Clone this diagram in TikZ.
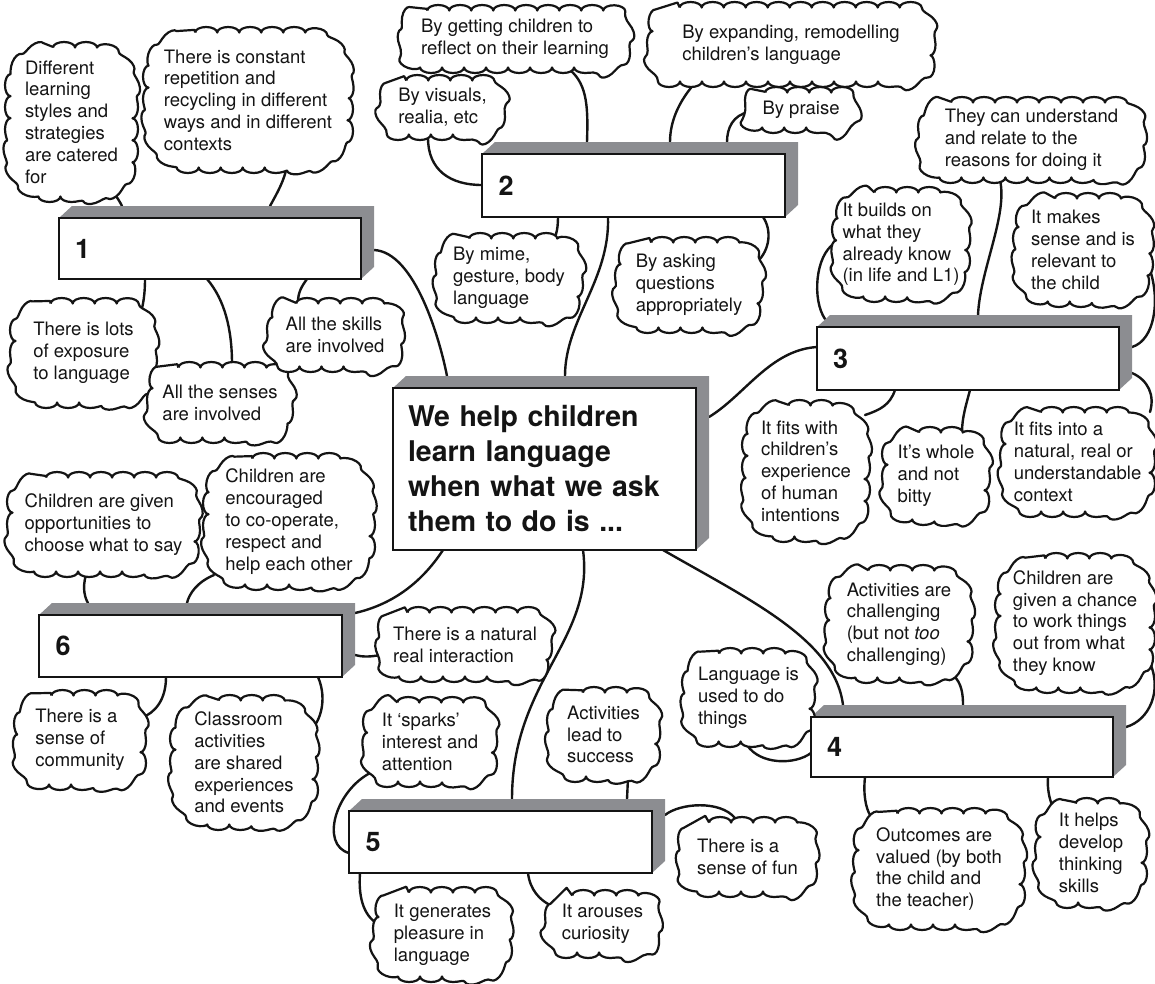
\documentclass[tikz,border=0pt]{standalone}
\usepackage{fontspec}
\setmainfont{TeX Gyre Heros}
\usetikzlibrary{calc,decorations.pathmorphing}
\definecolor{boxgray}{RGB}{140,141,145}
\definecolor{ink}{RGB}{20,20,20}
\pgfdeclarelayer{wires}
\pgfdeclarelayer{bubbles}
\pgfsetlayers{wires,bubbles,main}
\newcommand\boxdepth[1]{\begin{pgfonlayer}{bubbles}\fill[boxgray] (#1.north west) -- ($(#1.north west)+(13,-12)$) -- ($(#1.north east)+(13,-12)$) -- ($(#1.south east)+(13,-12)$) -- (#1.south east) -- (#1.north east) -- cycle;\end{pgfonlayer}}
\newcommand\puff[4]{%
 \pgfmathsetmacro\pxa{#1-#3/2+5.5}\pgfmathsetmacro\pxb{#1+#3/2-5.5}%
 \pgfmathsetmacro\pya{#2-#4/2+5.5}\pgfmathsetmacro\pyb{#2+#4/2-5.5}%
 \pgfmathsetmacro\pr{0.32*min(#3,#4)}\pgfmathsetmacro\pk{0.448*\pr}%
 \begin{pgfonlayer}{bubbles}
 \path[bubble] (\pxa+\pr,\pya) -- (\pxb-\pr,\pya) .. controls (\pxb-\pk,\pya) and (\pxb,\pya+\pk) .. (\pxb,\pya+\pr) -- (\pxb,\pyb-\pr) .. controls (\pxb,\pyb-\pk) and (\pxb-\pk,\pyb) .. (\pxb-\pr,\pyb) -- (\pxa+\pr,\pyb) .. controls (\pxa+\pk,\pyb) and (\pxa,\pyb-\pk) .. (\pxa,\pyb-\pr) -- (\pxa,\pya+\pr) .. controls (\pxa,\pya+\pk) and (\pxa+\pk,\pya) .. (\pxa+\pr,\pya);
 \end{pgfonlayer}}
\begin{document}
\begin{tikzpicture}[x=1pt,y=-1pt,
  conn/.style={line width=2.4pt, line cap=round, draw=ink},
  bubble/.style={draw=ink, line width=2.2pt, fill=white, line join=round, decorate, decoration={bumps, segment length=44pt, amplitude=5.5pt}},
  words/.style={align=left, inner sep=0pt, text=ink, font=\fontsize{18.5}{21.8}\selectfont},
  frontbox/.style={rectangle, draw=ink, line width=2.8pt, fill=white, outer sep=0pt, inner xsep=16pt, text width=270pt, align=left, text=ink, font=\bfseries\fontsize{27}{30}\selectfont},
  mainbox/.style={rectangle, draw=ink, line width=2.8pt, fill=white, outer sep=0pt, inner xsep=15pt, text width=273pt, align=left, text=ink, font=\bfseries\fontsize{28.5}{35}\selectfont}]
\useasboundingbox (0,0) rectangle (1155,983);

% boxes
\node[frontbox, minimum width=302pt, minimum height=61pt] (b1) at (210,248.5) {1};
\node[frontbox, minimum width=303pt, minimum height=63pt] (b2) at (633.5,185.5) {2};
\node[frontbox, minimum width=302pt, minimum height=63pt] (b3) at (968,358.5) {3};
\node[mainbox, minimum width=303pt, minimum height=162pt] (bc) at (544.5,469) {We help children\\learn language\\when what we ask\\them to do is ...};
\node[frontbox, minimum width=303pt, minimum height=62pt] (b6) at (190.5,646) {6};
\node[frontbox, minimum width=303pt, minimum height=62pt] (b5) at (500.5,842) {5};
\node[frontbox, minimum width=302pt, minimum height=60pt] (b4) at (962,747) {4};
\boxdepth{b1}
\boxdepth{b2}
\boxdepth{b3}
\boxdepth{bc}
\boxdepth{b6}
\boxdepth{b5}
\boxdepth{b4}

% clouds (text nodes + bumpy outlines)
\node[words] (c1a) at (71.5,122) {Different\\learning\\styles and\\strategies\\are catered\\for};
\puff{71.5}{122}{133}{160}
\node[words] (c1b) at (248,100) {There is constant\\repetition and\\recycling in different\\ways and in different\\contexts};
\puff{248}{100}{210}{146}
\node[words] (c1c) at (83.5,353) {There is lots\\of exposure\\to language};
\puff{83.5}{353}{147}{110}
\node[words] (c1d) at (220,402.5) {All the senses\\are involved};
\puff{220}{402.5}{146}{81}
\node[words] (c1e) at (335,335) {All the skills\\are involved};
\puff{335}{335}{136}{74}

\node[words] (c2a) at (515,39) {By getting children to\\reflect on their learning};
\puff{515}{39}{230}{68}
\node[words] (c2b) at (442.5,107.5) {By visuals,\\realia, etc};
\puff{442.5}{107.5}{125}{65}
\node[words] (c2c) at (791,44.5) {By expanding, remodelling\\children’s language};
\puff{791}{44.5}{288}{85}
\node[words] (c2d) at (801,110) {By praise};
\puff{801}{110}{112}{46}
\node[words] (c2e) at (509,278) {By mime,\\gesture, body\\language};
\puff{509}{278}{148}{90}
\node[words] (c2f) at (689,285) {By asking\\questions\\appropriately};
\puff{689}{285}{148}{96}

\node[words] (c3a) at (1031.5,140) {They can understand\\and relate to the\\reasons for doing it};
\puff{1031.5}{140}{227}{86}
\node[words] (c3b) at (901,244.5) {It builds on\\what they\\already know\\(in life and L1)};
\puff{901}{244.5}{138}{115}
\node[words] (c3c) at (1083,250) {It makes\\sense and is\\relevant to\\the child};
\puff{1083}{250}{140}{114}
\node[words] (c3d) at (806,471) {It fits with\\children’s\\experience\\of human\\intentions};
\puff{806}{471}{128}{142}
\node[words] (c3e) at (936,476) {It’s whole\\and not\\bitty};
\puff{936}{476}{108}{98}
\node[words] (c3f) at (1077.5,462) {It fits into a\\natural, real or\\understandable\\context};
\puff{1077.5}{462}{155}{110}

\node[words] (c6a) at (103.5,524.5) {Children are given\\opportunities to\\choose what to say};
\puff{103.5}{524.5}{193}{105}
\node[words] (c6b) at (289,521.5) {Children are\\encouraged\\to co-operate,\\respect and\\help each other};
\puff{289}{521.5}{172}{137}
\node[words] (c6c) at (465,644.5) {There is a natural\\real interaction};
\puff{465}{644.5}{174}{75}
\node[words] (c6d) at (80,740) {There is a\\sense of\\community};
\puff{80}{740}{132}{100}
\node[words] (c6e) at (244,762.5) {Classroom\\activities\\are shared\\experiences\\and events};
\puff{244}{762.5}{148}{135}

\node[words] (c5a) at (430,742) {It ‘sparks’\\interest and\\attention};
\puff{430}{742}{134}{90}
\node[words] (c5b) at (603.5,734.5) {Activities\\lead to\\success};
\puff{603.5}{734.5}{113}{95}
\node[words] (c5c) at (442.5,934.5) {It generates\\pleasure in\\language};
\puff{442.5}{934.5}{139}{95}
\node[words] (c5d) at (602.5,924) {It arouses\\curiosity};
\puff{602.5}{924}{115}{68}
\node[words] (c5e) at (747.5,857) {There is a\\sense of fun};
\puff{747.5}{857}{139}{80}

\node[words] (c4a) at (748.5,697.5) {Language is\\used to do\\things};
\puff{748.5}{697.5}{133}{99}
\node[words] (c4b) at (899,624) {Activities are\\challenging\\(but not \textit{too}\\challenging)};
\puff{899}{624}{148}{118}
\node[words] (c4c) at (1075,623) {Children are\\given a chance\\to work things\\out from what\\they know};
\puff{1075}{623}{160}{140}
\node[words] (c4d) at (939,869) {Outcomes are\\valued (by both\\the child and\\the teacher)};
\puff{939}{869}{172}{122}
\node[words] (c4e) at (1091,853) {It helps\\develop\\thinking\\skills};
\puff{1091}{853}{112}{110}

\begin{pgfonlayer}{wires}
\draw[conn] ($(c1a)+(33.5,60)$) .. controls (112,190) and (118,198) .. ($(b1.north west)+(63,-12)$);
\draw[conn] ($(c1b)+(39,65)$) .. controls (285,180) and (276,195) .. ($(b1.north west)+(211,-12)$);
\draw[conn] ($(b1.south west)+(86,0)$) .. controls (145,295) and (143,305) .. ($(c1c)+(57.5,-41)$);
\draw[conn] ($(b1.south west)+(148,0)$) .. controls (225,300) and (232,330) .. ($(c1d)+(12,-38.5)$);
\draw[conn] ($(b1.south west)+(248,0)$) .. controls (302,286) and (298,292) .. ($(c1e)+(-37,-33)$);
\draw[conn] ($(b1.north east)+(13,32)$) .. controls (415,252) and (440,340) .. ($(bc.north west)+(54,-12)$);
\draw[conn] ($(b2.south west)+(126,0)$) .. controls (610,280) and (565,320) .. ($(bc.north west)+(172,-12)$);
\draw[conn] ($(c2a)+(55,31)$) .. controls (588,85) and (588,110) .. ($(b2.north west)+(105,-12)$);
\draw[conn] ($(c2b)+(-14.5,30.5)$) .. controls (428,170) and (450,185) .. ($(b2.north west)+(0,31)$);
\draw[conn] ($(c2c)+(-96,38.5)$) .. controls (680,100) and (670,120) .. ($(b2.north west)+(188,-12)$);
\draw[conn] ($(c2d)+(-52,2)$) .. controls (733,115) and (727,128) .. ($(b2.north west)+(245,-12)$);
\draw[conn] ($(b2.south west)+(76,0)$) .. controls (558,232) and (555,240) .. ($(c2e)+(41,-35)$);
\draw[conn] ($(b2.south west)+(281,0)$) .. controls (772,230) and (770,250) .. ($(c2f)+(68,-23)$);
\draw[conn] ($(c3a)+(-31.5,40)$) .. controls (1008,215) and (980,270) .. ($(b3.north west)+(161,-12)$);
\draw[conn] ($(c3b)+(-66,-1.5)$) .. controls (815,255) and (812,300) .. ($(b3.north west)+(8,-8)$);
\draw[conn] ($(c3c)+(67,20)$) .. controls (1160,300) and (1155,340) .. ($(b3.north east)+(13,20)$);
\draw[conn] ($(bc.north east)+(13,29)$) .. controls (745,395) and (770,350) .. ($(b3.north west)+(0,20)$);
\draw[conn] ($(b3.south west)+(78,0)$) .. controls (890,405) and (880,410) .. ($(c3d)+(59,-56)$);
\draw[conn] ($(b3.south west)+(153,0)$) .. controls (966,405) and (962,418) .. ($(c3e)+(26,-44)$);
\draw[conn] ($(b3.north east)+(13,46)$) .. controls (1148,380) and (1155,395) .. ($(c3f)+(72.5,-50)$);
\draw[conn] ($(c6a)+(-17.5,50.5)$) .. controls (82,588) and (85,598) .. ($(b6.north west)+(49,-12)$);
\draw[conn] ($(c6b)+(-75,53.5)$) .. controls (197,582) and (189,594) .. ($(b6.north west)+(148,-12)$);
\draw[conn] ($(bc.south west)+(50,0)$) .. controls (420,585) and (390,605) .. ($(b6.north east)+(13,-2)$);
\draw[conn] ($(b6.north east)+(13,40)$) .. controls (362,657) and (370,657) .. ($(c6c)+(-85,10.5)$);
\draw[conn] ($(b6.south west)+(127,0)$) .. controls (166,700) and (155,713) .. ($(c6d)+(61,-22)$);
\draw[conn] ($(b6.south west)+(279,0)$) .. controls (328,700) and (320,725) .. ($(c6e)+(63,-29.5)$);
\draw[conn] ($(c5a)+(-58,30)$) .. controls (335,790) and (320,845) .. ($(b5.north west)+(0,42)$);
\draw[conn] ($(bc.south west)+(190,0)$) .. controls (595,640) and (512,680) .. ($(b5.north west)+(163,-12)$);
\draw[conn] ($(c5b)+(24.5,43.5)$) -- ($(b5.north west)+(278,-12)$);
\draw[conn] ($(b5.south west)+(11,0)$) .. controls (358,900) and (365,918) .. ($(c5c)+(-62.5,-9.5)$);
\draw[conn] ($(b5.south west)+(179,0)$) .. controls (530,890) and (540,900) .. ($(c5d)+(-52.5,-19)$);
\draw[conn] ($(b5.north east)+(13,4)$) .. controls (680,803) and (720,800) .. ($(c5e)+(-12.5,-39)$);
\draw[conn] ($(bc.south west)+(270,0)$) .. controls (750,600) and (835,640) .. ($(b4.north west)+(32,-12)$);
\draw[conn] ($(c4a)+(-1.5,47.5)$) .. controls (760,765) and (795,765) .. ($(b4.north west)+(0,36)$);
\draw[conn] ($(c4b)+(54,51)$) .. controls (962,683) and (963,695) .. ($(b4.north west)+(152,-12)$);
\draw[conn] ($(c4c)+(75,40)$) .. controls (1162,690) and (1150,720) .. ($(b4.north east)+(13,10)$);
\draw[conn] ($(b4.south west)+(54,0)$) .. controls (863,795) and (866,808) .. ($(c4d)+(-69,-54)$);
\draw[conn] ($(b4.south west)+(237,0)$) .. controls (1047,790) and (1050,800) .. ($(c4e)+(-39,-48)$);
\end{pgfonlayer}
\end{tikzpicture}
\end{document}
